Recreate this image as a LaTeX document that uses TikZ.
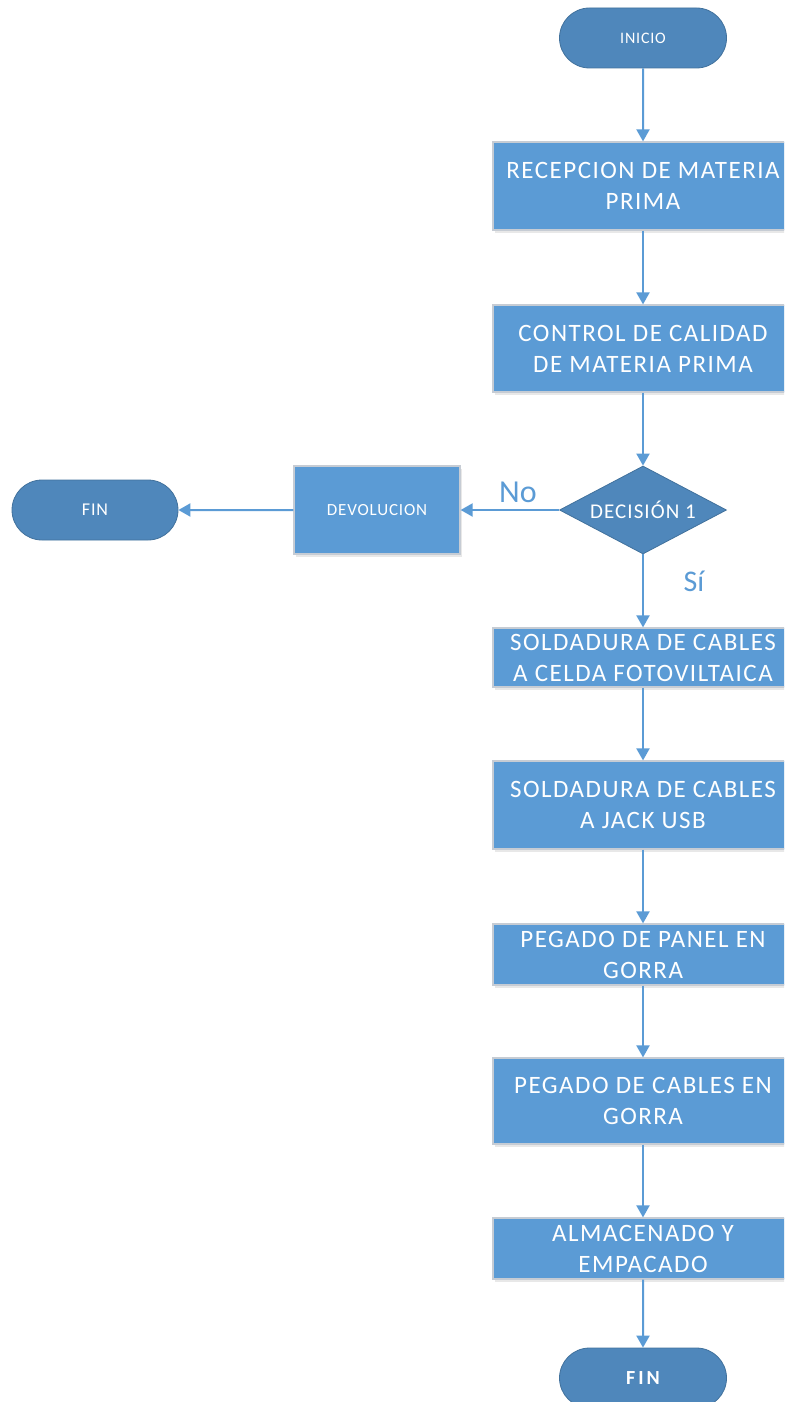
\documentclass[tikz,border=0pt]{standalone}
\usepackage{fontspec}
\setmainfont{Carlito}
\newfontfamily\boxfont[LetterSpace=6]{Carlito}
\newfontfamily\smallfont[LetterSpace=5]{Carlito}
\newfontfamily\widefont[LetterSpace=15,BoldFont={Carlito Bold}]{Carlito}
\usetikzlibrary{arrows.meta,shapes.geometric,shapes.misc,shadows}
\definecolor{boxblue}{HTML}{5B9BD5}
\definecolor{darkblue}{HTML}{4F87BB}
\definecolor{edgeblue}{HTML}{41719C}
\definecolor{boxedge}{HTML}{C6CCD4}
\tikzset{
  x=1pt, y=-1pt,
  procbox/.style={rectangle, fill=boxblue, draw=boxedge, line width=1.2pt, minimum width=300pt,
    text=white, align=center, font=\boxfont\fontsize{25}{31}\selectfont, inner sep=0pt,
    drop shadow={opacity=0.18, shadow xshift=2pt, shadow yshift=-3pt}},
  term/.style={rounded rectangle, fill=darkblue, draw=edgeblue, line width=0.8pt, minimum width=167pt,
    minimum height=60pt, text=white, inner sep=0pt},
  dec/.style={diamond, fill=darkblue, draw=edgeblue, line width=0.8pt, aspect=1.9, minimum width=167pt,
    minimum height=88pt, inner sep=0pt, text=white},
  flow/.style={draw=boxblue, line width=2pt, -{Triangle[width=13pt,length=12pt]}},
  lbl/.style={text=boxblue}
}
\begin{document}
\begin{tikzpicture}
\useasboundingbox (0,0) rectangle (784,1402);
\clip (0,0) rectangle (784,1402);
\node[term, font=\smallfont\fontsize{16}{19}\selectfont] (inicio) at (643,38) {INICIO};
\node[procbox, minimum height=88pt] (b1) at (643,186) {RECEPCION DE MATERIA\\PRIMA};
\node[procbox, minimum height=87pt] (b2) at (643,348.5) {CONTROL DE CALIDAD\\DE MATERIA PRIMA};
\node[dec, font=\smallfont\fontsize{21}{25}\selectfont] (d1) at (643,510) {DECISIÓN 1};
\node[procbox, minimum width=166pt, minimum height=88pt, font=\smallfont\fontsize{17}{20}\selectfont] (dev) at (377,510) {DEVOLUCION};
\node[term, minimum width=166pt, font=\smallfont\fontsize{18}{21}\selectfont] (fin1) at (95,510) {FIN};
\node[procbox, minimum height=59pt] (b3) at (643,657.5) {SOLDADURA DE CABLES\\A CELDA FOTOVILTAICA};
\node[procbox, minimum height=88pt] (b4) at (643,805) {SOLDADURA DE CABLES\\A JACK USB};
\node[procbox, minimum height=61pt] (b5) at (643,954.5) {PEGADO DE PANEL EN\\GORRA};
\node[procbox, minimum height=86pt] (b6) at (643,1101) {PEGADO DE CABLES EN\\GORRA};
\node[procbox, minimum height=61pt] (b7) at (643,1248.5) {ALMACENADO Y\\EMPACADO};
\node[term, font=\widefont\fontsize{20}{24}\selectfont\bfseries] (fin2) at (643,1378) {FIN};
\draw[flow] (inicio) -- (b1);
\draw[flow] (b1) -- (b2);
\draw[flow] (b2) -- (d1);
\draw[flow] (d1) -- (dev);
\draw[flow] (dev) -- (fin1);
\draw[flow] (d1) -- (b3);
\draw[flow] (b3) -- (b4);
\draw[flow] (b4) -- (b5);
\draw[flow] (b5) -- (b6);
\draw[flow] (b6) -- (b7);
\draw[flow] (b7) -- (fin2);
\node[lbl, font=\fontsize{32}{36}\selectfont] (no) at (518,492) {No};
\node[lbl, font=\fontsize{30}{34}\selectfont] (si) at (694,581) {Sí};
\end{tikzpicture}
\end{document}
